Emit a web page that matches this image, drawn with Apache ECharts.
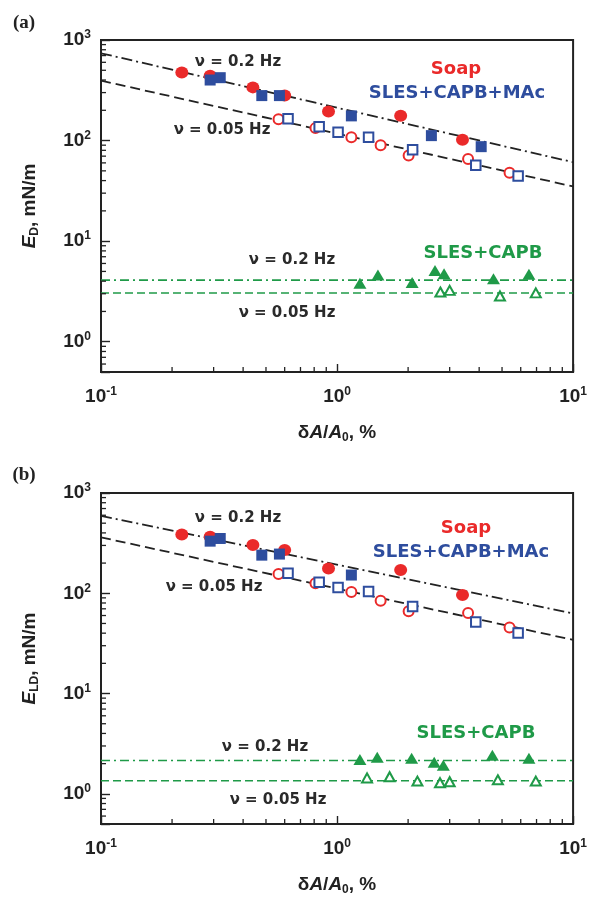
<!DOCTYPE html>
<html>
<head>
<meta charset="utf-8">
<script src="https://cdn.jsdelivr.net/npm/echarts@6/dist/echarts.min.js"></script>
<style>
html,body{margin:0;padding:0;background:#fff;}
#chart{width:590px;height:897px;}
</style>
</head>
<body>
<div id="chart"></div>
<script>
// ---------- data ----------
const xTickValues = [0.1, 1, 10];
const yTickValues = [1, 10, 100, 1000];
const xMinorTicks = [0.2,0.3,0.4,0.5,0.6,0.7,0.8,0.9,2,3,4,5,6,7,8,9];
const yMinorTicks = [0.6,0.7,0.8,0.9,2,3,4,5,6,7,8,9,20,30,40,50,60,70,80,90,200,300,400,500,600,700,800,900];

// Soap, 0.2 Hz (filled red circles)
const xSoap02 = [0.22, 0.29, 0.44, 0.60, 0.92, 1.86, 3.40];
const ySoapD02 = [474, 440, 338, 280, 195, 177, 102];
const ySoapLD02 = [386, 366, 303, 270, 177, 171, 96];
// SLES+CAPB+MAc, 0.2 Hz (filled blue squares)
const xMac02A = [0.29, 0.32, 0.48, 0.57, 1.15, 2.51, 4.08];
const yMacD02 = [400, 422, 280, 280, 176, 112, 87];
const xMac02B = [0.29, 0.32, 0.48, 0.57, 1.15];
const yMacLD02 = [331, 352, 240, 246, 152];
// Soap, 0.05 Hz (open red circles)
const xSoap005 = [0.565, 0.81, 1.15, 1.53, 2.01, 3.59, 5.38];
const ySoapD005 = [163, 133, 108, 90, 71, 65.5, 48];
const ySoapLD005 = [156, 126, 103, 84, 66, 63.5, 45.6];
// SLES+CAPB+MAc, 0.05 Hz (open blue squares)
const xMac005 = [0.62, 0.84, 1.01, 1.36, 2.09, 3.87, 5.85];
const yMacD005 = [165, 137, 121, 108, 81, 57, 44.5];
const yMacLD005 = [158, 129, 114, 104, 74, 51.6, 40.2];
// SLES+CAPB, 0.2 Hz (filled green triangles)
const xCapb02A = [1.25, 1.49, 2.08, 2.60, 2.84, 4.6, 6.5];
const yCapbD02 = [3.82, 4.6, 3.87, 5.1, 4.74, 4.22, 4.7];
const xCapb02B = [1.25, 1.48, 2.07, 2.58, 2.82, 4.55, 6.5];
const yCapbLD02 = [2.2, 2.32, 2.26, 2.06, 1.93, 2.42, 2.26];
// SLES+CAPB, 0.05 Hz (open green triangles)
const xCapb005A = [2.74, 3.0, 4.9, 6.95];
const yCapbD005 = [3.12, 3.24, 2.85, 3.06];
const xCapb005B = [1.34, 1.67, 2.19, 2.73, 3.0, 4.8, 6.95];
const yCapbLD005 = [1.44, 1.48, 1.34, 1.29, 1.32, 1.38, 1.34];

// fitted lines (end points at x = 0.1 and x = 10)
const fitX = [0.1, 10];
const fitD02 = [738, 61];
const fitD005 = [394, 35];
const capbD02 = [4.1, 4.1];
const capbD005 = [3.05, 3.05];
const fitLD02 = [592, 63];
const fitLD005 = [361, 34.3];
const capbLD02 = [2.15, 2.15];
const capbLD005 = [1.35, 1.35];

// ---------- styling ----------
const X_MIN = 0.1, X_MAX = 10, Y_MIN = 0.5, Y_MAX = 1000;
const RED = '#ea2a2a', BLUE = '#2e4d9e', GREEN = '#1f9a48', INK = '#222';
const FONT = '"Liberation Sans", Arial, sans-serif';
const AFONT = '"DejaVu Sans", sans-serif';

const zip = (xs, ys) => xs.map((x, i) => [x, ys[i]]);

function isTick(v, list) {
  return list.some(t => Math.abs(Math.log10(v) - Math.log10(t)) < 1e-6);
}
function fmtFor(list) {
  return function (v) {
    if (!isTick(v, list)) return '';
    const e = Math.round(Math.log10(v));
    return '{b|10}{s|' + e + '}';
  };
}
const tickRich = {
  b: { fontSize: 19, fontWeight: 'bold', fontFamily: FONT, color: INK },
  s: { fontSize: 12, fontWeight: 'bold', fontFamily: FONT, color: INK, padding: [0, 0, 10, 0] }
};

function xAxis(gi) {
  return {
    type: 'log', logBase: 10, gridIndex: gi, min: X_MIN, max: X_MAX,
    axisLine: { show: true, lineStyle: { color: INK, width: 2 } },
    axisTick: { show: true, inside: true, length: 8, lineStyle: { color: INK, width: 1.4 } },
    axisLabel: { formatter: fmtFor(xTickValues), rich: tickRich, margin: 14, showMinLabel: true, showMaxLabel: true },
    splitLine: { show: false },
    minorTick: { show: false },
    name: '{n|δ}{i|A}{n|/}{i|A}{sub|0}{n|, %}',
    nameLocation: 'middle', nameGap: 50,
    nameTextStyle: {
      rich: {
        n: { fontSize: 19, fontWeight: 'bold', fontFamily: FONT, color: INK },
        i: { fontSize: 19, fontWeight: 'bold', fontStyle: 'italic', fontFamily: FONT, color: INK },
        sub: { fontSize: 12, fontWeight: 'bold', fontFamily: FONT, color: INK, padding: [10, 0, 0, 0] }
      }
    }
  };
}
function yAxis(gi, sub) {
  return {
    type: 'log', logBase: 10, gridIndex: gi, min: Y_MIN, max: Y_MAX,
    axisLine: { show: true, lineStyle: { color: INK, width: 2 } },
    axisTick: { show: true, inside: true, length: 9, lineStyle: { color: INK, width: 1.4 } },
    axisLabel: { formatter: fmtFor(yTickValues), rich: tickRich, margin: 10, showMinLabel: true, showMaxLabel: true },
    splitLine: { show: false },
    minorTick: { show: false },
    name: '{i|E}{sub|' + sub + '}{n|, mN/m}',
    nameLocation: 'middle', nameGap: 60, nameRotate: 90,
    nameTextStyle: {
      rich: {
        n: { fontSize: 19, fontWeight: 'bold', fontFamily: FONT, color: INK },
        i: { fontSize: 19, fontWeight: 'bold', fontStyle: 'italic', fontFamily: FONT, color: INK },
        sub: { fontSize: 12, fontWeight: 'bold', fontFamily: FONT, color: INK, padding: [10, 0, 0, 0] }
      }
    }
  };
}

function lineSeries(gi, xs, ys, color, type, width, z) {
  return {
    type: 'line', xAxisIndex: gi, yAxisIndex: gi, data: zip(xs, ys),
    symbol: 'none', silent: true, z: z || 2,
    lineStyle: { color: color, width: width, type: type }
  };
}
function scatter(gi, xs, ys, symbol, size, color, open, z) {
  return {
    type: 'scatter', xAxisIndex: gi, yAxisIndex: gi, data: zip(xs, ys),
    symbol: symbol, symbolSize: size, z: z || 3, silent: true,
    itemStyle: open
      ? { color: '#fff', borderColor: color, borderWidth: 2, opacity: 1 }
      : { color: color, opacity: 1 }
  };
}
function minorXTicks(gi) {
  return {
    type: 'custom', xAxisIndex: gi, yAxisIndex: gi, silent: true, z: 6, clip: false,
    data: xMinorTicks.map(v => [v, Y_MIN]),
    renderItem: function (params, api) {
      const p = api.coord([api.value(0), api.value(1)]);
      return { type: 'line', shape: { x1: p[0], y1: p[1], x2: p[0], y2: p[1] - 5 },
        style: { stroke: INK, lineWidth: 1.3 } };
    }
  };
}
function minorYTicks(gi) {
  return {
    type: 'custom', xAxisIndex: gi, yAxisIndex: gi, silent: true, z: 6, clip: false,
    data: yMinorTicks.map(v => [X_MIN, v]),
    renderItem: function (params, api) {
      const p = api.coord([api.value(0), api.value(1)]);
      return { type: 'line', shape: { x1: p[0], y1: p[1], x2: p[0] + 5, y2: p[1] },
        style: { stroke: INK, lineWidth: 1.3 } };
    }
  };
}

const DASHDOT = [11, 4, 2, 4];
const DASH = [10, 5];
const GDASHDOT = [9, 4, 2, 4];
const GDASH = [8, 4];

const series = [
  // panel (a)
  lineSeries(0, fitX, fitD02, INK, DASHDOT, 1.8),
  lineSeries(0, fitX, fitD005, INK, DASH, 1.8),
  lineSeries(0, fitX, capbD02, GREEN, GDASHDOT, 1.6),
  lineSeries(0, fitX, capbD005, GREEN, GDASH, 1.6),
  scatter(0, xSoap02, ySoapD02, 'circle', [13, 12], RED, false),
  scatter(0, xMac02A, yMacD02, 'rect', 11, BLUE, false, 4),
  scatter(0, xSoap005, ySoapD005, 'circle', 10, RED, true),
  scatter(0, xMac005, yMacD005, 'rect', 9.5, BLUE, true, 4),
  scatter(0, xCapb02A, yCapbD02, 'triangle', [13, 11], GREEN, false),
  scatter(0, xCapb005A, yCapbD005, 'triangle', [10, 9], GREEN, true),
  minorXTicks(0), minorYTicks(0),
  // panel (b)
  lineSeries(1, fitX, fitLD02, INK, DASHDOT, 1.8),
  lineSeries(1, fitX, fitLD005, INK, DASH, 1.8),
  lineSeries(1, fitX, capbLD02, GREEN, GDASHDOT, 1.6),
  lineSeries(1, fitX, capbLD005, GREEN, GDASH, 1.6),
  scatter(1, xSoap02, ySoapLD02, 'circle', [13, 12], RED, false),
  scatter(1, xMac02B, yMacLD02, 'rect', 11, BLUE, false, 4),
  scatter(1, xSoap005, ySoapLD005, 'circle', 10, RED, true),
  scatter(1, xMac005, yMacLD005, 'rect', 9.5, BLUE, true, 4),
  scatter(1, xCapb02B, yCapbLD02, 'triangle', [13, 11], GREEN, false),
  scatter(1, xCapb005B, yCapbLD005, 'triangle', [10, 9], GREEN, true),
  minorXTicks(1), minorYTicks(1)
];

function txt(str, x, y, font, color, align) {
  return {
    type: 'text', x: x, y: y, silent: true, z: 50,
    style: { text: str, font: font, fill: color, align: align || 'center', verticalAlign: 'middle',
      textAlign: align || 'center', textVerticalAlign: 'middle' }
  };
}
const NUF = 'bold 15px ' + AFONT;
const LBF = 'bold 18px ' + AFONT;
const PF = 'bold 19px "Liberation Serif", "Times New Roman", serif';
const GRAY = '#2a2a2a';

const graphics = [
  txt('(a)', 24, 23, PF, INK),
  txt('(b)', 24, 475, PF, INK),
  // panel (a)
  txt('ν = 0.2 Hz', 238, 62, NUF, GRAY),
  txt('ν = 0.05 Hz', 222, 130, NUF, GRAY),
  txt('Soap', 456, 69, LBF, RED),
  txt('SLES+CAPB+MAc', 457, 93, LBF, BLUE),
  txt('SLES+CAPB', 483, 253, LBF, GREEN),
  txt('ν = 0.2 Hz', 292, 260, NUF, GRAY),
  txt('ν = 0.05 Hz', 287, 313, NUF, GRAY),
  // panel (b)
  txt('ν = 0.2 Hz', 238, 518, NUF, GRAY),
  txt('ν = 0.05 Hz', 214, 587, NUF, GRAY),
  txt('Soap', 466, 528, LBF, RED),
  txt('SLES+CAPB+MAc', 461, 552, LBF, BLUE),
  txt('SLES+CAPB', 476, 733, LBF, GREEN),
  txt('ν = 0.2 Hz', 265, 747, NUF, GRAY),
  txt('ν = 0.05 Hz', 278, 800, NUF, GRAY)
];

const chart = echarts.init(document.getElementById('chart'), null, { renderer: 'canvas' });
chart.setOption({
  animation: false,
  backgroundColor: '#fff',
  grid: [
    { left: 101, right: 14, top: 40, height: 332, show: true, borderColor: INK, borderWidth: 2, backgroundColor: 'transparent' },
    { left: 101, right: 14, top: 493, height: 332, show: true, borderColor: INK, borderWidth: 2, backgroundColor: 'transparent' }
  ],
  xAxis: [xAxis(0), xAxis(1)],
  yAxis: [yAxis(0, 'D'), yAxis(1, 'LD')],
  series: series,
  graphic: graphics
});
</script>
</body>
</html>
